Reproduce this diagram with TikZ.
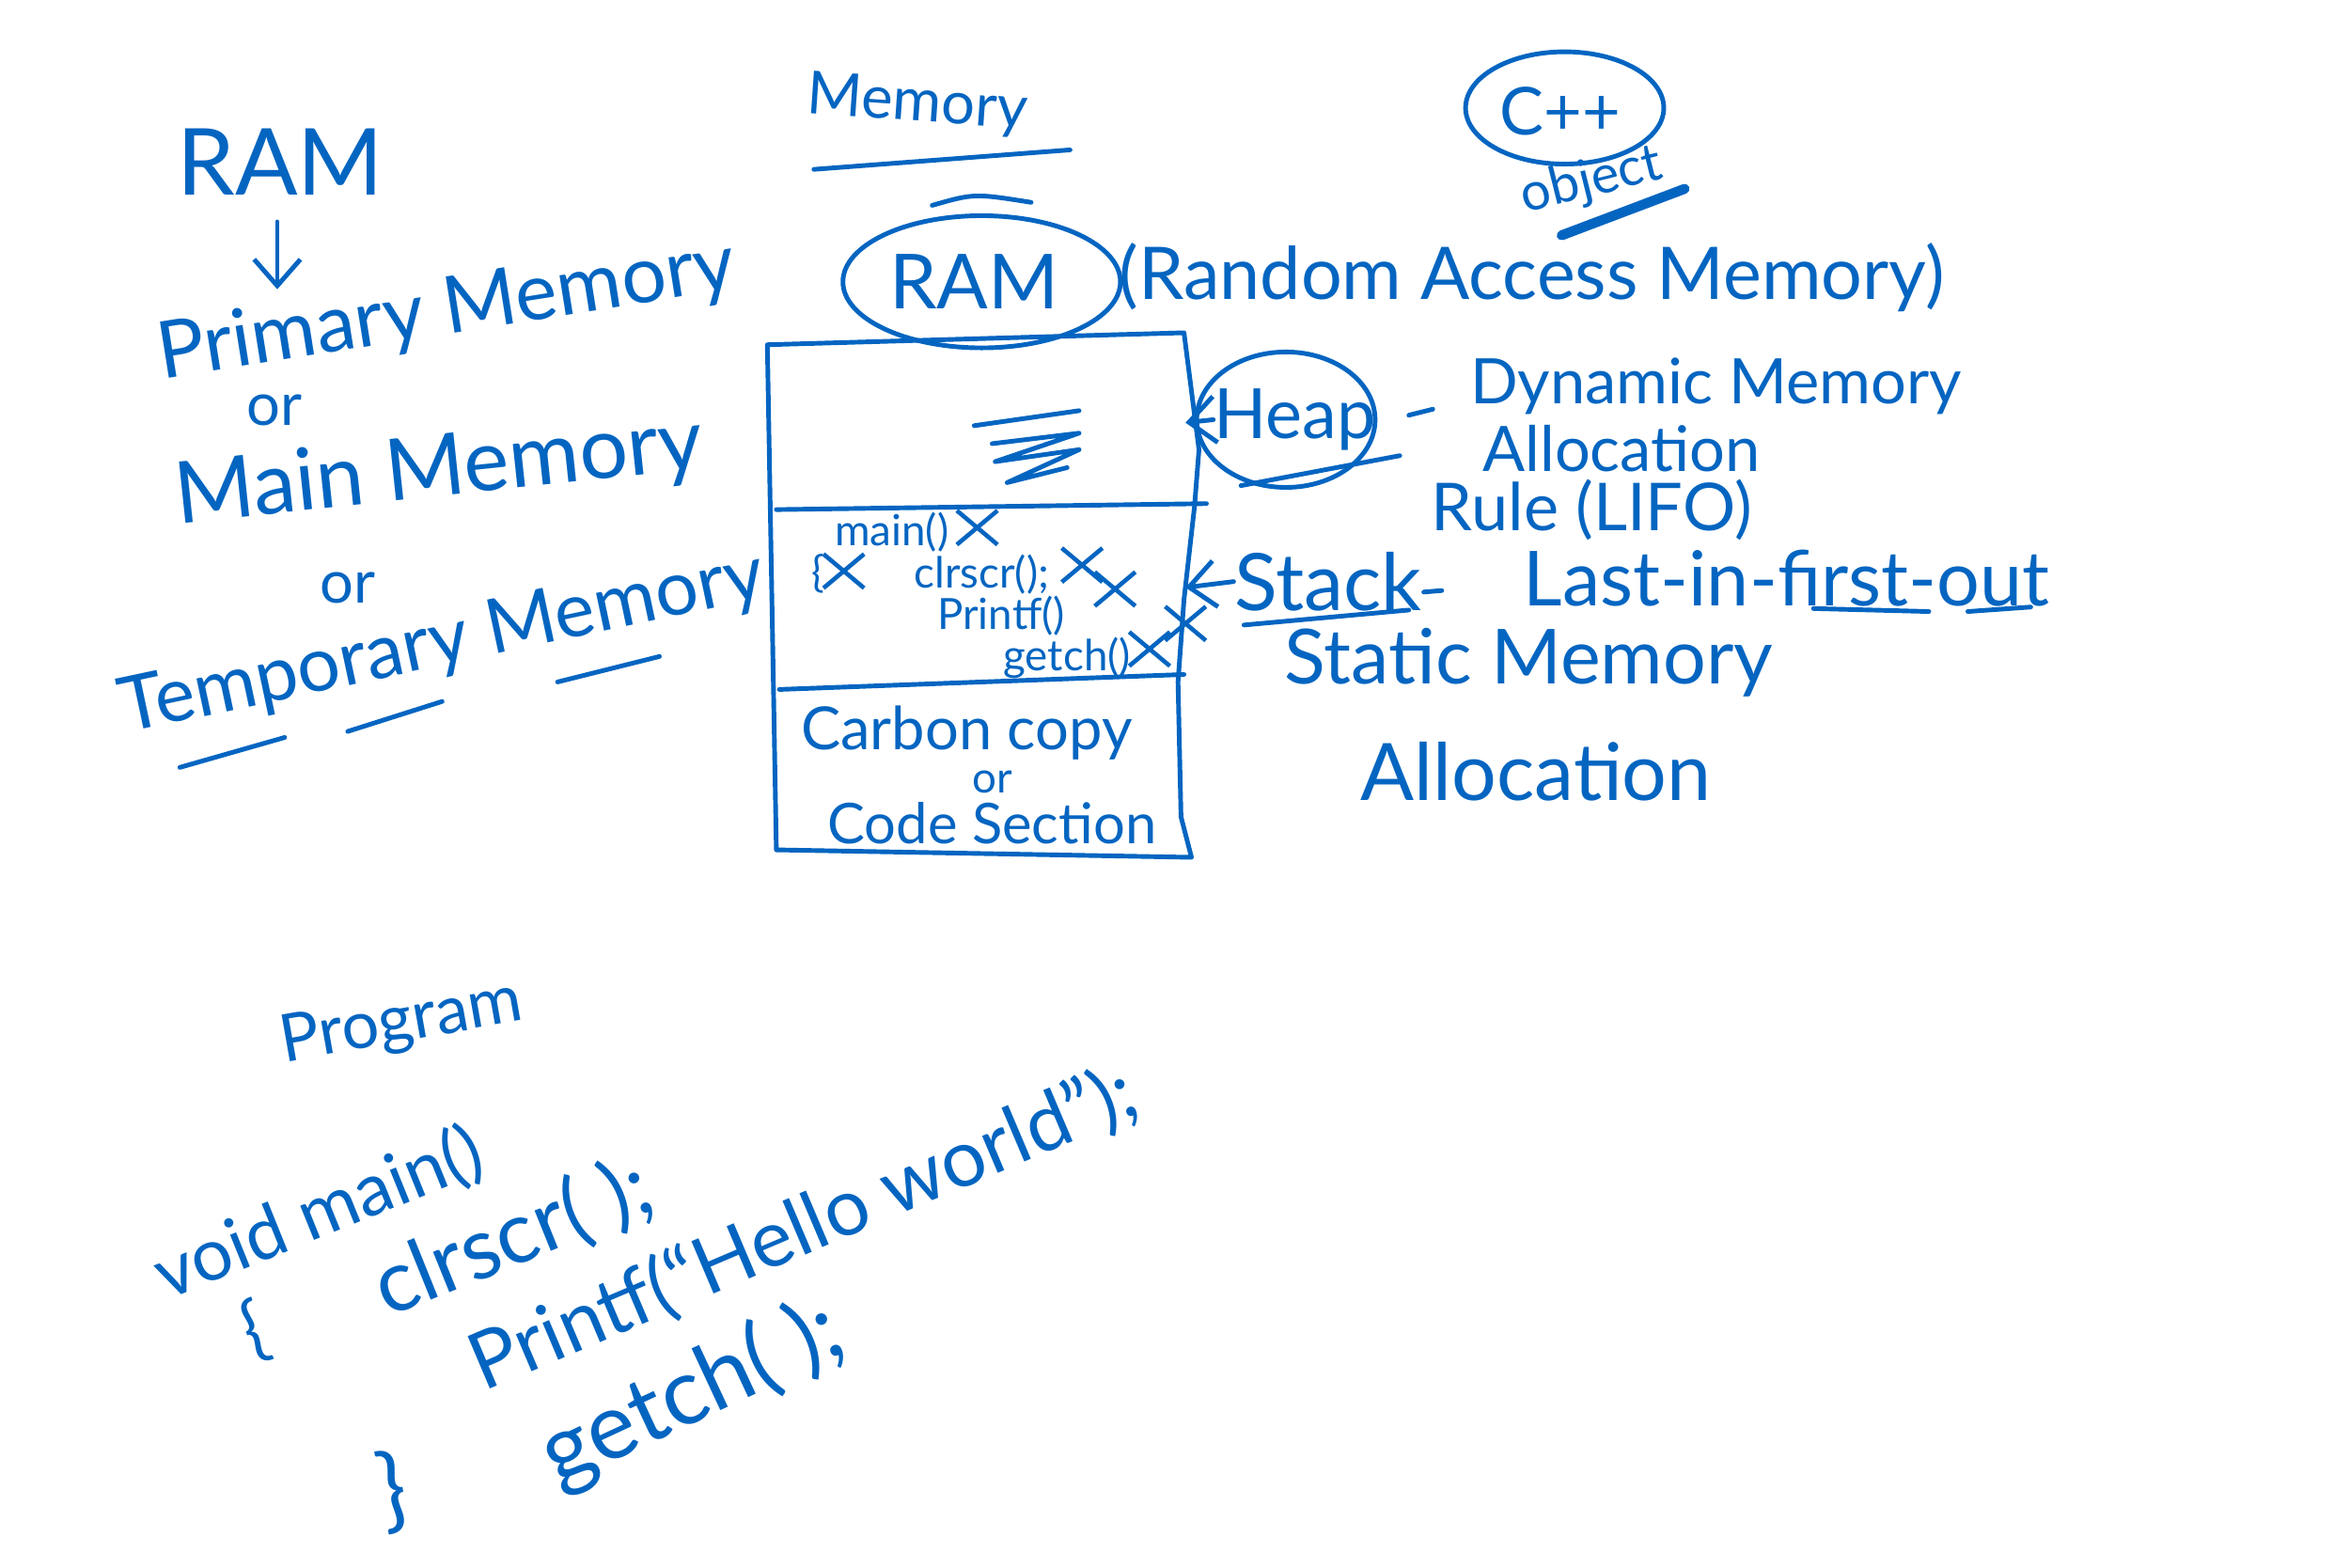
\documentclass[tikz,border=0pt]{standalone}
\usepackage{fontspec}
\setmainfont{Lato}
\usetikzlibrary{arrows.meta,shapes.geometric,shapes.misc}
\definecolor{ink}{RGB}{4,101,193}
\newcommand\hwsize[1]{\fontsize{#1}{#1}\selectfont}
\begin{document}
\begin{tikzpicture}[x=0.015944cm,y=-0.015944cm,
  hw/.style={text=ink,inner sep=0pt,anchor=center},
  pen/.style={draw=ink,line width=1.4pt,line cap=round,line join=round},
  ring/.style={draw=ink,line width=1.4pt,ellipse,inner sep=0pt},
  xm/.style={cross out,draw=ink,line width=1.3pt,inner sep=0pt,minimum width=11pt,minimum height=9pt},
  barb/.style={-{Straight Barb[length=8pt,width=14pt]}}]
\useasboundingbox (0,0) rectangle (1568,1045.6);
\fill[white] (0,0) rectangle (1568,1045.6);

% ---------- left column ----------
\node[hw,font=\hwsize{28}] (ram1) at (187,108) {RAM};
\coordinate (ramarrowtop) at (185,148);
\coordinate (ramarrowtip) at (185,193);
\draw[pen,barb] (ramarrowtop) -- (ramarrowtip);
\node[hw,font=\hwsize{24},rotate=9] (prim) at (298,208) {Primary Memory};
\node[hw,font=\hwsize{18}] (or1) at (183,274) {or};
\node[hw,font=\hwsize{26},rotate=6] (mainm) at (293,315) {Main Memory};
\node[hw,font=\hwsize{18}] (or2) at (232,392) {or};
\node[hw,font=\hwsize{23},rotate=12] (temp) at (295,430) {Temporary Memory};
\draw[pen] (120,512) -- (190,492);
\draw[pen] (232,488) -- (295,468);
\draw[pen] (372,455) -- (440,438);

% ---------- top ----------
\node[hw,font=\hwsize{18},rotate=-4] (memtop) at (612,70) {Memory};
\draw[pen] (543,113) -- (714,100);
\node[ring,minimum width=84pt,minimum height=40pt] (ramring) at (655,188) {};
\node[hw,font=\hwsize{23}] (ram2) at (650,188) {RAM};
\draw[pen] (622,137) .. controls (650,129) .. (688,135);
\node[hw,font=\hwsize{22}] (rand) at (1022,185) {(Random Access Memory)};
\node[ring,minimum width=60pt,minimum height=34pt] (cppring) at (1044,72) {};
\node[hw,font=\hwsize{20}] (cpp) at (1041,74) {C++};
\node[hw,font=\hwsize{16},rotate=14] (obj) at (1062,121) {object};
\draw[draw=ink,line width=3pt,line cap=round] (1042,157) -- (1124,126);

% ---------- memory box ----------
\draw[pen] (512,230) -- (790,222) -- (800,300) -- (797,338) -- (790,400)
  -- (786,455) -- (788,545) -- (795,572) -- (518,567) -- cycle;
\draw[pen] (518,340) -- (805,336);
\draw[pen] (520,460) -- (790,450);
% heap scribble
\draw[pen] (650,284) -- (720,274);
\draw[pen] (662,296) -- (720,289) -- (664,308) -- (720,300) -- (672,322) -- (712,312);
% stack section
\node[hw,font=\hwsize{13}] (fmain) at (595,355) {main()};
\node[xm] (x1) at (652,352) {};
\node[hw,font=\hwsize{13}] (brace1) at (546,383) {\{};
\node[xm] (x2) at (563,381) {};
\node[hw,font=\hwsize{13}] (fclr) at (655,383) {clrscr();};
\node[xm] (x3) at (722,377) {};
\node[xm] (x4) at (744,393) {};
\node[hw,font=\hwsize{13}] (fprint) at (668,411) {Printf()};
\node[hw,font=\hwsize{13}] (fgetch) at (712,439) {getch()};
\node[xm] (x5) at (767,433) {};
\node[xm] (x6) at (791,416) {};
% code section
\node[hw,font=\hwsize{18}] (carbon) at (645,489) {Carbon copy};
\node[hw,font=\hwsize{13}] (or3) at (662,522) {or};
\node[hw,font=\hwsize{17}] (code) at (662,549) {Code Section};

% ---------- right side ----------
\node[ring,minimum width=54pt,minimum height=41pt] (heapring) at (858,280) {};
\node[hw,font=\hwsize{21}] (heap) at (864,280) {Heap};
\coordinate (heaptip) at (791,282);
\draw[pen,barb] (heap.west) -- (heaptip);
\draw[pen] (828,324) -- (934,304);
\draw[pen] (940,277) -- (956,273);
\node[hw,font=\hwsize{19}] (dyn) at (1145,258) {Dynamic Memory};
\node[hw,font=\hwsize{19}] (alloc1) at (1082,299) {Allocation};
\node[hw,font=\hwsize{20}] (rule) at (1062,340) {Rule (LIFO)};
\node[hw,font=\hwsize{24}] (stack) at (886,388) {Stack};
\coordinate (stacktip) at (791,392);
\draw[pen,barb] (stack.west) -- (stacktip);
\draw[pen] (830,417) -- (940,407);
\draw[pen] (950,395) -- (962,394);
\node[hw,font=\hwsize{23}] (lifo) at (1192,386) {Last-in-first-out};
\draw[pen] (1210,406) -- (1287,408);
\draw[pen] (1313,408) -- (1355,405);
\node[hw,font=\hwsize{23}] (static) at (1020,442) {Static Memory};
\node[hw,font=\hwsize{24}] (alloc2) at (1025,515) {Allocation};

% ---------- program ----------
\node[hw,font=\hwsize{20},rotate=10] (prog) at (268,683) {Program};
\node[hw,font=\hwsize{22},rotate=22] (vmain) at (213,810) {void main()};
\node[hw,font=\hwsize{22},rotate=20] (ob) at (170,888) {\{};
\node[hw,font=\hwsize{26},rotate=22] (cclr) at (342,826) {clrscr( );};
\node[hw,font=\hwsize{24},rotate=23] (cprint) at (536,820) {Printf(“Hello world”);};
\node[hw,font=\hwsize{28},rotate=25] (cgetch) at (462,930) {getch( );};
\node[hw,font=\hwsize{28},rotate=10] (cb) at (262,995) {\}};
\end{tikzpicture}
\end{document}
